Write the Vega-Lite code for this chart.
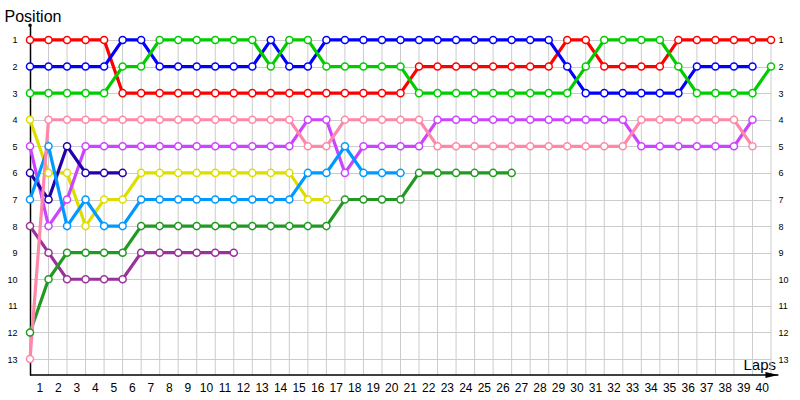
{
  "$schema": "https://vega.github.io/schema/vega-lite/v6.json",
  "width": 741,
  "height": 351,
  "autosize": {"type": "none"},
  "padding": {"left": 30, "top": 24, "right": 29, "bottom": 25},
  "background": "white",
  "config": {
    "view": {"stroke": null},
    "font": "Liberation Sans"
  },
  "datasets": {
    "race": [
      {"lap": 0, "D1": 1, "D2": 2, "D3": 3, "D4": 4, "D5": 5, "D6": 6, "D7": 7, "D8": 8, "D9": 12, "D10": 13},
      {"lap": 1, "D1": 1, "D2": 2, "D3": 3, "D4": 6, "D5": 8, "D6": 7, "D7": 5, "D8": 9, "D9": 10, "D10": 4},
      {"lap": 2, "D1": 1, "D2": 2, "D3": 3, "D4": 6, "D5": 7, "D6": 5, "D7": 8, "D8": 10, "D9": 9, "D10": 4},
      {"lap": 3, "D1": 1, "D2": 2, "D3": 3, "D4": 8, "D5": 5, "D6": 6, "D7": 7, "D8": 10, "D9": 9, "D10": 4},
      {"lap": 4, "D1": 1, "D2": 2, "D3": 3, "D4": 7, "D5": 5, "D6": 6, "D7": 8, "D8": 10, "D9": 9, "D10": 4},
      {"lap": 5, "D1": 3, "D2": 1, "D3": 2, "D4": 7, "D5": 5, "D6": 6, "D7": 8, "D8": 10, "D9": 9, "D10": 4},
      {"lap": 6, "D1": 3, "D2": 1, "D3": 2, "D4": 6, "D5": 5, "D7": 7, "D8": 9, "D9": 8, "D10": 4},
      {"lap": 7, "D1": 3, "D2": 2, "D3": 1, "D4": 6, "D5": 5, "D7": 7, "D8": 9, "D9": 8, "D10": 4},
      {"lap": 8, "D1": 3, "D2": 2, "D3": 1, "D4": 6, "D5": 5, "D7": 7, "D8": 9, "D9": 8, "D10": 4},
      {"lap": 9, "D1": 3, "D2": 2, "D3": 1, "D4": 6, "D5": 5, "D7": 7, "D8": 9, "D9": 8, "D10": 4},
      {"lap": 10, "D1": 3, "D2": 2, "D3": 1, "D4": 6, "D5": 5, "D7": 7, "D8": 9, "D9": 8, "D10": 4},
      {"lap": 11, "D1": 3, "D2": 2, "D3": 1, "D4": 6, "D5": 5, "D7": 7, "D8": 9, "D9": 8, "D10": 4},
      {"lap": 12, "D1": 3, "D2": 2, "D3": 1, "D4": 6, "D5": 5, "D7": 7, "D9": 8, "D10": 4},
      {"lap": 13, "D1": 3, "D2": 1, "D3": 2, "D4": 6, "D5": 5, "D7": 7, "D9": 8, "D10": 4},
      {"lap": 14, "D1": 3, "D2": 2, "D3": 1, "D4": 6, "D5": 5, "D7": 7, "D9": 8, "D10": 4},
      {"lap": 15, "D1": 3, "D2": 2, "D3": 1, "D4": 7, "D5": 4, "D7": 6, "D9": 8, "D10": 5},
      {"lap": 16, "D1": 3, "D2": 1, "D3": 2, "D4": 7, "D5": 4, "D7": 6, "D9": 8, "D10": 5},
      {"lap": 17, "D1": 3, "D2": 1, "D3": 2, "D5": 6, "D7": 5, "D9": 7, "D10": 4},
      {"lap": 18, "D1": 3, "D2": 1, "D3": 2, "D5": 5, "D7": 6, "D9": 7, "D10": 4},
      {"lap": 19, "D1": 3, "D2": 1, "D3": 2, "D5": 5, "D7": 6, "D9": 7, "D10": 4},
      {"lap": 20, "D1": 3, "D2": 1, "D3": 2, "D5": 5, "D7": 6, "D9": 7, "D10": 4},
      {"lap": 21, "D1": 2, "D2": 1, "D3": 3, "D5": 5, "D9": 6, "D10": 4},
      {"lap": 22, "D1": 2, "D2": 1, "D3": 3, "D5": 4, "D9": 6, "D10": 5},
      {"lap": 23, "D1": 2, "D2": 1, "D3": 3, "D5": 4, "D9": 6, "D10": 5},
      {"lap": 24, "D1": 2, "D2": 1, "D3": 3, "D5": 4, "D9": 6, "D10": 5},
      {"lap": 25, "D1": 2, "D2": 1, "D3": 3, "D5": 4, "D9": 6, "D10": 5},
      {"lap": 26, "D1": 2, "D2": 1, "D3": 3, "D5": 4, "D9": 6, "D10": 5},
      {"lap": 27, "D1": 2, "D2": 1, "D3": 3, "D5": 4, "D10": 5},
      {"lap": 28, "D1": 2, "D2": 1, "D3": 3, "D5": 4, "D10": 5},
      {"lap": 29, "D1": 1, "D2": 2, "D3": 3, "D5": 4, "D10": 5},
      {"lap": 30, "D1": 1, "D2": 3, "D3": 2, "D5": 4, "D10": 5},
      {"lap": 31, "D1": 2, "D2": 3, "D3": 1, "D5": 4, "D10": 5},
      {"lap": 32, "D1": 2, "D2": 3, "D3": 1, "D5": 4, "D10": 5},
      {"lap": 33, "D1": 2, "D2": 3, "D3": 1, "D5": 5, "D10": 4},
      {"lap": 34, "D1": 2, "D2": 3, "D3": 1, "D5": 5, "D10": 4},
      {"lap": 35, "D1": 1, "D2": 3, "D3": 2, "D5": 5, "D10": 4},
      {"lap": 36, "D1": 1, "D2": 2, "D3": 3, "D5": 5, "D10": 4},
      {"lap": 37, "D1": 1, "D2": 2, "D3": 3, "D5": 5, "D10": 4},
      {"lap": 38, "D1": 1, "D2": 2, "D3": 3, "D5": 5, "D10": 4},
      {"lap": 39, "D1": 1, "D2": 2, "D3": 3, "D5": 4, "D10": 5},
      {"lap": 40, "D1": 1, "D3": 2}
    ],
    "laps": [
      {"lap": 1}, {"lap": 2}, {"lap": 3}, {"lap": 4}, {"lap": 5}, {"lap": 6}, {"lap": 7}, {"lap": 8}, {"lap": 9}, {"lap": 10},
      {"lap": 11}, {"lap": 12}, {"lap": 13}, {"lap": 14}, {"lap": 15}, {"lap": 16}, {"lap": 17}, {"lap": 18}, {"lap": 19}, {"lap": 20},
      {"lap": 21}, {"lap": 22}, {"lap": 23}, {"lap": 24}, {"lap": 25}, {"lap": 26}, {"lap": 27}, {"lap": 28}, {"lap": 29}, {"lap": 30},
      {"lap": 31}, {"lap": 32}, {"lap": 33}, {"lap": 34}, {"lap": 35}, {"lap": 36}, {"lap": 37}, {"lap": 38}, {"lap": 39}, {"lap": 40}
    ]
  },
  "resolve": {"axis": {"y": "independent", "x": "independent"}},
  "layer": [
    {
      "data": {"name": "laps"},
      "mark": {"type": "rule", "color": "#cccccc", "strokeWidth": 1},
      "encoding": {
        "x": {"field": "lap", "type": "quantitative", "scale": {"domain": [0, 40], "nice": false, "zero": false}, "axis": null},
        "y": {"datum": 1, "type": "quantitative", "scale": {"domain": [0.4, 13.6], "reverse": true, "nice": false, "zero": false}, "axis": null},
        "y2": {"datum": 13.6}
      }
    },
    {
      "data": {"values": [{}]},
      "mark": {"type": "rule", "color": "#000000", "strokeWidth": 1.5},
      "encoding": {
        "x": {"datum": 0, "type": "quantitative", "scale": {"domain": [0, 40], "nice": false, "zero": false}, "axis": null},
        "x2": {"datum": 40.4},
        "y": {"datum": 13.6, "type": "quantitative", "scale": {"domain": [0.4, 13.6], "reverse": true, "nice": false, "zero": false}, "axis": null}
      }
    },
    {
      "data": {"name": "race"},
      "transform": [
        {"fold": ["D1", "D2", "D3", "D4", "D5", "D6", "D7", "D8", "D9", "D10"], "as": ["car", "pos"]},
        {"filter": "isValid(datum.pos)"}
      ],
      "mark": {"type": "line", "strokeWidth": 3.2, "interpolate": "linear"},
      "encoding": {
        "x": {
          "field": "lap", "type": "quantitative",
          "scale": {"domain": [0, 40], "nice": false, "zero": false},
          "axis": {
            "values": [1,2,3,4,5,6,7,8,9,10,11,12,13,14,15,16,17,18,19,20,21,22,23,24,25,26,27,28,29,30,31,32,33,34,35,36,37,38,39,40],
            "labelOffset": -9.26,
            "labelFontSize": 12,
            "labelColor": "#000000",
            "labelPadding": 7,
            "labelFlush": false,
            "labelOverlap": false,
            "labelSeparation": 0,
            "labelBound": false,
            "domain": false,
            "ticks": false,
            "tickSize": 0,
            "grid": false,
            "title": "Laps",
            "titleFontSize": 15,
            "titleFontWeight": "normal",
            "titleColor": "#000000",
            "titleX": 713,
            "titleY": -6,
            "titleAlign": "left",
            "titleAnchor": null,
            "titleBaseline": "alphabetic"
          }
        },
        "y": {
          "field": "pos", "type": "quantitative",
          "scale": {"domain": [0.4, 13.6], "reverse": true, "nice": false, "zero": false},
          "axis": {
            "orient": "left",
            "values": [1,2,3,4,5,6,7,8,9,10,11,12,13],
            "title": "Position",
            "titleAngle": 0,
            "titleX": -26,
            "titleY": -3,
            "titleAlign": "left",
            "titleAnchor": null,
            "titleBaseline": "alphabetic",
            "titleFontSize": 16,
            "titleFontWeight": "normal",
            "titleColor": "#000000",
            "labelFontSize": 9,
            "labelColor": "#000000",
            "labelAlign": "right",
            "labelBaseline": "middle",
            "labelPadding": 13,
            "ticks": false,
            "tickSize": 0,
            "domain": true,
            "domainColor": "#000000",
            "domainWidth": 1.5,
            "grid": true,
            "gridColor": "#cccccc",
            "gridWidth": 1
          }
        },
        "color": {
          "field": "car", "type": "nominal",
          "scale": {"domain": ["D1", "D2", "D3", "D4", "D5", "D6", "D7", "D8", "D9", "D10"], "range": ["#ff0000", "#0000ff", "#00cc00", "#dddd00", "#cc44ff", "#2200aa", "#0099ff", "#993399", "#229922", "#ff88aa"]},
          "legend": null
        },
        "order": {"field": "lap", "type": "quantitative"}
      }
    },
    {
      "data": {"name": "race"},
      "transform": [
        {"fold": ["D1", "D2", "D3", "D4", "D5", "D6", "D7", "D8", "D9", "D10"], "as": ["car", "pos"]},
        {"filter": "isValid(datum.pos)"}
      ],
      "mark": {"type": "point", "shape": "circle", "filled": true, "fill": "white", "size": 50, "strokeWidth": 1.5, "opacity": 1},
      "encoding": {
        "x": {"field": "lap", "type": "quantitative", "scale": {"domain": [0, 40], "nice": false, "zero": false}, "axis": null},
        "y": {
          "field": "pos", "type": "quantitative",
          "scale": {"domain": [0.4, 13.6], "reverse": true, "nice": false, "zero": false},
          "axis": {
            "orient": "right",
            "values": [1,2,3,4,5,6,7,8,9,10,11,12,13],
            "title": null,
            "labelFontSize": 9,
            "labelColor": "#000000",
            "labelAlign": "left",
            "labelBaseline": "middle",
            "labelPadding": 7,
            "ticks": false,
            "tickSize": 0,
            "domain": false,
            "grid": false
          }
        },
        "stroke": {
          "field": "car", "type": "nominal",
          "scale": {"domain": ["D1", "D2", "D3", "D4", "D5", "D6", "D7", "D8", "D9", "D10"], "range": ["#ff0000", "#0000ff", "#00cc00", "#dddd00", "#cc44ff", "#2200aa", "#0099ff", "#993399", "#229922", "#ff88aa"]},
          "legend": null
        }
      }
    },
    {
      "data": {"values": [{}]},
      "mark": {"type": "point", "shape": "M-1,-0.45L1,0L-1,0.45Z", "filled": true, "color": "#000000", "size": 169, "opacity": 1},
      "encoding": {
        "x": {"datum": 40.05, "type": "quantitative", "scale": {"domain": [0, 40], "nice": false, "zero": false}, "axis": null},
        "y": {"datum": 13.6, "type": "quantitative", "scale": {"domain": [0.4, 13.6], "reverse": true, "nice": false, "zero": false}, "axis": null}
      }
    },
    {
      "data": {"values": [{}]},
      "mark": {"type": "point", "shape": "circle", "filled": true, "color": "#000000", "size": 12, "opacity": 1},
      "encoding": {
        "x": {"datum": 0, "type": "quantitative", "scale": {"domain": [0, 40], "nice": false, "zero": false}, "axis": null},
        "y": {"datum": 0.45, "type": "quantitative", "scale": {"domain": [0.4, 13.6], "reverse": true, "nice": false, "zero": false}, "axis": null}
      }
    }
  ]
}
